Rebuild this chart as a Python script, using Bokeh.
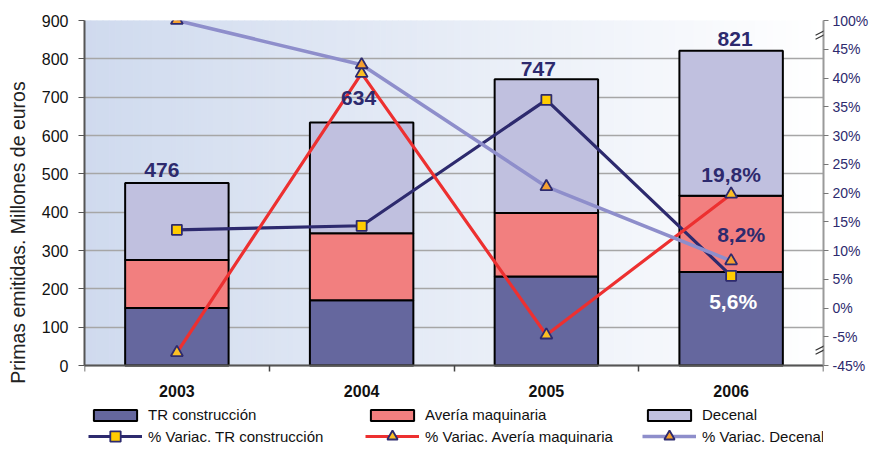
import numpy as np
from bokeh.plotting import figure
from bokeh.models import (Range1d, LinearAxis, FixedTicker, Legend, LegendItem,
                          ColumnDataSource, Arrow)
from bokeh.core.properties import value
from bokeh.embed import file_html
from bokeh.resources import INLINE

# ---------------- data ----------------
years = ["2003", "2004", "2005", "2006"]
tr_construccion = [150, 170, 232, 244]
averia_maquinaria = [125, 175, 166, 199]
decenal = [201, 289, 349, 378]

pct_tr = [13.6, 14.3, 36.2, 5.6]
pct_averia = [-27.0, 40.8, -4.7, 19.8]
pct_decenal = [100.0, 42.3, 21.1, 8.2]

left_ticks = [0, 100, 200, 300, 400, 500, 600, 700, 800, 900]
right_ticks = [-45, -5, 0, 5, 10, 15, 20, 25, 30, 35, 40, 45, 100]
labelled_year = "2006"

# ---------------- helpers ----------------
FONT = value("Liberation Sans")
NAVY = "#2d2a6e"


def axis_pos(v):
    """Broken right axis: -45..-5 and 45..100 are compressed to one step each."""
    if v > 45:
        return 45 + (v - 45) * 5.0 / 55.0
    if v < -5:
        return -5 + (v + 5) * 5.0 / 40.0
    return float(v)


def fmt_pct(v):
    return ("%.1f" % v).replace(".", ",") + "%"


# layout: plotting area of 345 px, with 79 px below it for the legend
W, H = 871, 444
TOP, PLOT_H = 20, 345
BELOW = H - TOP - PLOT_H
y_lo, y_hi = 0, 900
p_lo, p_hi = axis_pos(-45), axis_pos(100)
y_start = y_lo - BELOW * (y_hi - y_lo) / PLOT_H
p_start = p_lo - BELOW * (p_hi - p_lo) / PLOT_H

xs = list(range(len(years)))
totals = [a + b + c for a, b, c in zip(tr_construccion, averia_maquinaria, decenal)]

p = figure(width=W, height=H, output_backend="svg", toolbar_location=None,
           x_range=Range1d(-0.5, len(years) - 0.5), y_range=Range1d(y_start, y_hi),
           min_border_left=84, min_border_right=45, min_border_top=TOP,
           min_border_bottom=0)
p.extra_y_ranges = {"pct": Range1d(p_start, p_hi)}
p.background_fill_color = "white"
p.border_fill_color = "white"
p.outline_line_color = None

# gradient background (left light blue -> right white)
n = 120
edges = np.linspace(-0.5, len(years) - 0.5, n + 1)
c0 = np.array([207, 218, 238])
c1 = np.array([255, 255, 255])
cols = []
for i in range(n):
    t = (i + 0.5) / n
    c = c0 + (c1 - c0) * t
    cols.append("#%02x%02x%02x" % tuple(int(round(v)) for v in c))
p.quad(left=edges[:-1], right=edges[1:], bottom=y_lo, top=y_hi, fill_color=cols,
       line_color=cols, line_width=1, level="image")

# grid
p.xgrid.visible = False
p.ygrid.ticker = FixedTicker(ticks=left_ticks)
p.ygrid.grid_line_color = "#a6a6a6"
p.ygrid.grid_line_width = 1.5

# bars
src = ColumnDataSource(dict(x=xs, tr=tr_construccion, av=averia_maquinaria,
                            dec=decenal, total=totals,
                            total_text=[str(t) for t in totals],
                            xo=[-15, -3, -8, 4], yo=[-13, -24, -10, -12]))
bars = p.vbar_stack(["tr", "av", "dec"], x="x", width=0.56, source=src,
                    fill_color=["#65679e", "#f27f7f", "#c0c0df"],
                    line_color="black", line_width=2)

# lines
r_tr_line = p.line(xs, [axis_pos(v) for v in pct_tr], y_range_name="pct",
                   line_color=NAVY, line_width=3.2)
r_av_line = p.line(xs, [axis_pos(v) for v in pct_averia], y_range_name="pct",
                   line_color="#ed3030", line_width=3.2)
r_dec_line = p.line(xs, [axis_pos(v) for v in pct_decenal], y_range_name="pct",
                    line_color="#8e8ecb", line_width=3.6)
r_tr_pts = p.scatter(xs, [axis_pos(v) for v in pct_tr], y_range_name="pct",
                     marker="square", size=10, fill_color="#ffcc00",
                     line_color=NAVY, line_width=1.8)
r_av_pts = p.scatter(xs, [axis_pos(v) for v in pct_averia], y_range_name="pct",
                     marker="triangle", size=12, fill_color="#fbbf24",
                     line_color=NAVY, line_width=1.8)
r_dec_pts = p.scatter(xs, [axis_pos(v) for v in pct_decenal], y_range_name="pct",
                      marker="triangle", size=12, fill_color="#f5a030",
                      line_color=NAVY, line_width=1.8)

# total labels
p.text(x="x", y="total", text="total_text", source=src,
       x_offset="xo", y_offset="yo",
       text_font=FONT, text_font_style="bold", text_font_size="21px",
       text_color=NAVY, text_align="center", text_baseline="middle")

# percentage labels for the last year
k = years.index(labelled_year)
p.text(x=[k, k, k],
       y=[axis_pos(pct_averia[k]), axis_pos(pct_decenal[k]), axis_pos(pct_tr[k])],
       text=[fmt_pct(pct_averia[k]), fmt_pct(pct_decenal[k]), fmt_pct(pct_tr[k])],
       x_offset=[0, 10, 2], y_offset=[-20, -26, 26], y_range_name="pct",
       text_font=FONT, text_font_style="bold", text_font_size="21px",
       text_color=[NAVY, NAVY, "white"], text_align="center",
       text_baseline="middle")

# left axis
ya = p.yaxis[0]
ya.ticker = FixedTicker(ticks=left_ticks)
ya.bounds = (y_lo, y_hi)
ya.axis_label = "Primas emitidas. Millones de euros"
ya.axis_label_text_font = "Liberation Sans"
ya.axis_label_text_font_size = "19.5px"
ya.axis_label_text_font_style = "normal"
ya.axis_label_text_color = "#222222"
ya.axis_label_standoff = 10
ya.major_label_text_font = "Liberation Sans"
ya.major_label_text_font_size = "16px"
ya.major_label_text_color = "#111111"
ya.major_label_standoff = 10
ya.major_tick_out = 6
ya.major_tick_in = 0
ya.minor_tick_out = 0
ya.minor_tick_in = 0
ya.axis_line_color = "#555555"
ya.axis_line_width = 2
ya.major_tick_line_color = "#555555"

# x axis (drawn at y = 0, inside the frame)
xa = p.xaxis[0]
xa.fixed_location = 0
xa.ticker = FixedTicker(ticks=xs, minor_ticks=[i - 0.5 for i in range(len(years) + 1)])
xa.major_label_overrides = {i: y for i, y in enumerate(years)}
xa.major_label_text_font = "Liberation Sans"
xa.major_label_text_font_style = "bold"
xa.major_label_text_font_size = "16px"
xa.major_label_text_color = "#111111"
xa.major_label_standoff = 13
xa.major_tick_out = 0
xa.major_tick_in = 0
xa.minor_tick_out = 6
xa.minor_tick_in = 0
xa.minor_tick_line_color = "#444444"
xa.minor_tick_line_width = 1.5
xa.axis_line_color = "#555555"
xa.axis_line_width = 2

# right axis (broken)
ra = LinearAxis(y_range_name="pct")
ra.ticker = FixedTicker(ticks=[axis_pos(t) for t in right_ticks])
ra.major_label_overrides = {axis_pos(t): "%d%%" % t for t in right_ticks}
ra.bounds = (p_lo, p_hi)
ra.major_label_text_font = "Liberation Sans"
ra.major_label_text_font_size = "14px"
ra.major_label_text_color = NAVY
ra.major_label_standoff = 4
ra.major_tick_out = 5
ra.major_tick_in = 0
ra.minor_tick_out = 0
ra.minor_tick_in = 0
ra.axis_line_color = "#9a9a9a"
ra.axis_line_width = 2
ra.major_tick_line_color = "#777777"
p.add_layout(ra, "right")

# break marks on the right axis
xr = len(years) - 0.5
for yb in (47.8, -7.0):
    for d in (-0.35, 0.35):
        p.add_layout(Arrow(end=None, x_start=xr - 0.043, y_start=yb + d - 0.7,
                           x_end=xr + 0.043, y_end=yb + d + 0.7,
                           y_range_name="pct", line_color="#333333",
                           line_width=1.2))

# legends: one row for the bars, one row for the lines
common = dict(orientation="horizontal", ncols=3, margin=0, padding=0, spacing=0,
              glyph_width=54, label_width=217, label_standoff=6,
              label_text_font="Liberation Sans", label_text_font_size="15px",
              label_text_color="#111111",
              background_fill_alpha=0, border_line_alpha=0)
bar_items = [
    LegendItem(label="TR construcción", renderers=[bars[0]]),
    LegendItem(label="Avería maquinaria", renderers=[bars[1]]),
    LegendItem(label="Decenal", renderers=[bars[2]]),
]
line_items = [
    LegendItem(label="% Variac. TR construcción", renderers=[r_tr_line, r_tr_pts]),
    LegendItem(label="% Variac. Avería maquinaria", renderers=[r_av_line, r_av_pts]),
    LegendItem(label="% Variac. Decenal", renderers=[r_dec_line, r_dec_pts]),
]
legend_bars = Legend(items=bar_items, location=(4, 18), glyph_height=14,
                     label_height=23, **common)
legend_lines = Legend(items=line_items, location=(4, -5), glyph_height=26,
                      label_height=26, **common)
p.add_layout(legend_bars, "center")
p.add_layout(legend_lines, "center")

open("out.html", "w").write(file_html(p, INLINE))
